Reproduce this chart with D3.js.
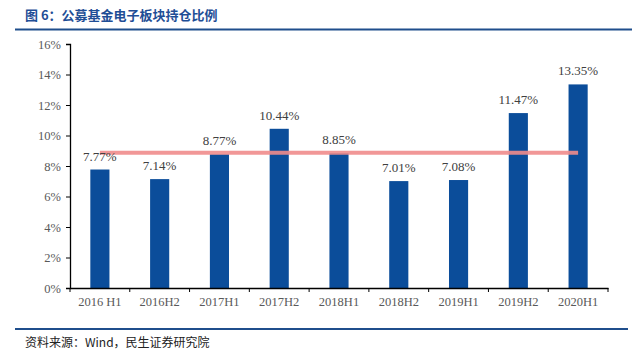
<!DOCTYPE html>
<html>
<head>
<meta charset="utf-8">
<script src="https://cdn.jsdelivr.net/npm/d3@7"></script>
<style>
  body { margin: 0; background: #fff; }
  svg { display: block; }
</style>
</head>
<body>
<svg id="chart" width="640" height="353"></svg>
<script>
// data
var periods = ["2016 H1", "2016H2", "2017H1", "2017H2", "2018H1", "2018H2", "2019H1", "2019H2", "2020H1"];
var shares = [7.77, 7.14, 8.77, 10.44, 8.85, 7.01, 7.08, 11.47, 13.35];
var avgLine = 8.87;
var yTicks = [0, 2, 4, 6, 8, 10, 12, 14, 16];

var width = 640, height = 353;
var margin = {left: 70, right: 32, top: 44, bottom: 65};

function draw()
{
    var svg = d3.select("svg");
    var serif = "'Liberation Serif', 'DejaVu Serif', serif";
    var cjk = "'Noto Sans CJK SC', sans-serif";

    var x = d3.scaleBand().domain(periods)
        .range([margin.left, width - margin.right]).paddingInner(0.68).paddingOuter(0.34);
    var y = d3.scaleLinear().domain([0, 16])
        .range([height - margin.bottom, margin.top]);

    // title + rules
    svg.append("text").attr("x", 25).attr("y", 20)
        .attr("font-family", cjk).attr("font-weight", "bold")
        .attr("font-size", 13).attr("fill", "#1f4e96")
        .text("图 6：公募基金电子板块持仓比例");
    svg.append("line").attr("x1", 15).attr("x2", 632).attr("y1", 29.5).attr("y2", 29.5)
        .attr("stroke", "#1f4e8c").attr("stroke-width", 2);
    svg.append("line").attr("x1", 15).attr("x2", 628).attr("y1", 329).attr("y2", 329)
        .attr("stroke", "#1f4e8c").attr("stroke-width", 2);
    svg.append("text").attr("x", 25).attr("y", 347)
        .attr("font-family", cjk).attr("font-size", 12).attr("fill", "#222")
        .text("资料来源：Wind，民生证券研究院");

    // bars
    svg.selectAll("rect.bar").data(shares).enter().append("rect")
        .attr("class", "bar")
        .attr("x", function(d, i) { return x(periods[i]); })
        .attr("y", function(d) { return y(d); })
        .attr("width", x.bandwidth())
        .attr("height", function(d) { return y(0) - y(d); })
        .attr("fill", "#0b4d9a");

    // value labels
    svg.selectAll("text.val").data(shares).enter().append("text")
        .attr("class", "val")
        .attr("x", function(d, i) { return x(periods[i]) + x.bandwidth() / 2; })
        .attr("y", function(d) { return y(d) - 9; })
        .attr("text-anchor", "middle")
        .attr("font-family", serif).attr("font-size", 13).attr("fill", "#404040")
        .text(function(d) { return d.toFixed(2) + "%"; });

    // average line (drawn over bars, under the labels)
    var cx0 = x(periods[0]) + x.bandwidth() / 2,
        cx1 = x(periods[periods.length - 1]) + x.bandwidth() / 2;
    svg.insert("line", "text.val")
        .attr("x1", cx0).attr("x2", cx1)
        .attr("y1", y(avgLine)).attr("y2", y(avgLine))
        .attr("stroke", "#f08c8c").attr("stroke-width", 4).attr("opacity", 0.9);

    // axes
    var yAxis = d3.axisLeft(y).tickValues(yTicks)
        .tickFormat(function(d) { return d + "%"; }).tickSize(4).tickPadding(5);
    var gy = svg.append("g").attr("transform", "translate(" + margin.left + ",0)").call(yAxis);
    gy.select(".domain").attr("stroke", "#000").attr("stroke-width", 1.3);

    var xAxis = d3.axisBottom(x).tickSize(0).tickPadding(9);
    var gx = svg.append("g").attr("transform", "translate(0," + y(0) + ")").call(xAxis);
    gx.select(".domain").attr("stroke", "#000").attr("stroke-width", 1.3);

    // band boundary ticks
    var step = (width - margin.right - margin.left) / periods.length;
    var bounds = d3.range(periods.length + 1).map(function(i) { return margin.left + i * step; });
    gx.selectAll("line.sep").data(bounds).enter().append("line")
        .attr("class", "sep")
        .attr("x1", function(d) { return d; }).attr("x2", function(d) { return d; })
        .attr("y1", 0).attr("y2", 4).attr("stroke", "#000");

    svg.selectAll(".tick text")
        .attr("font-family", serif).attr("font-size", 12.5).attr("fill", "#595959");
    svg.selectAll(".tick line").attr("stroke", "#000");
}

draw();
</script>
</body>
</html>
